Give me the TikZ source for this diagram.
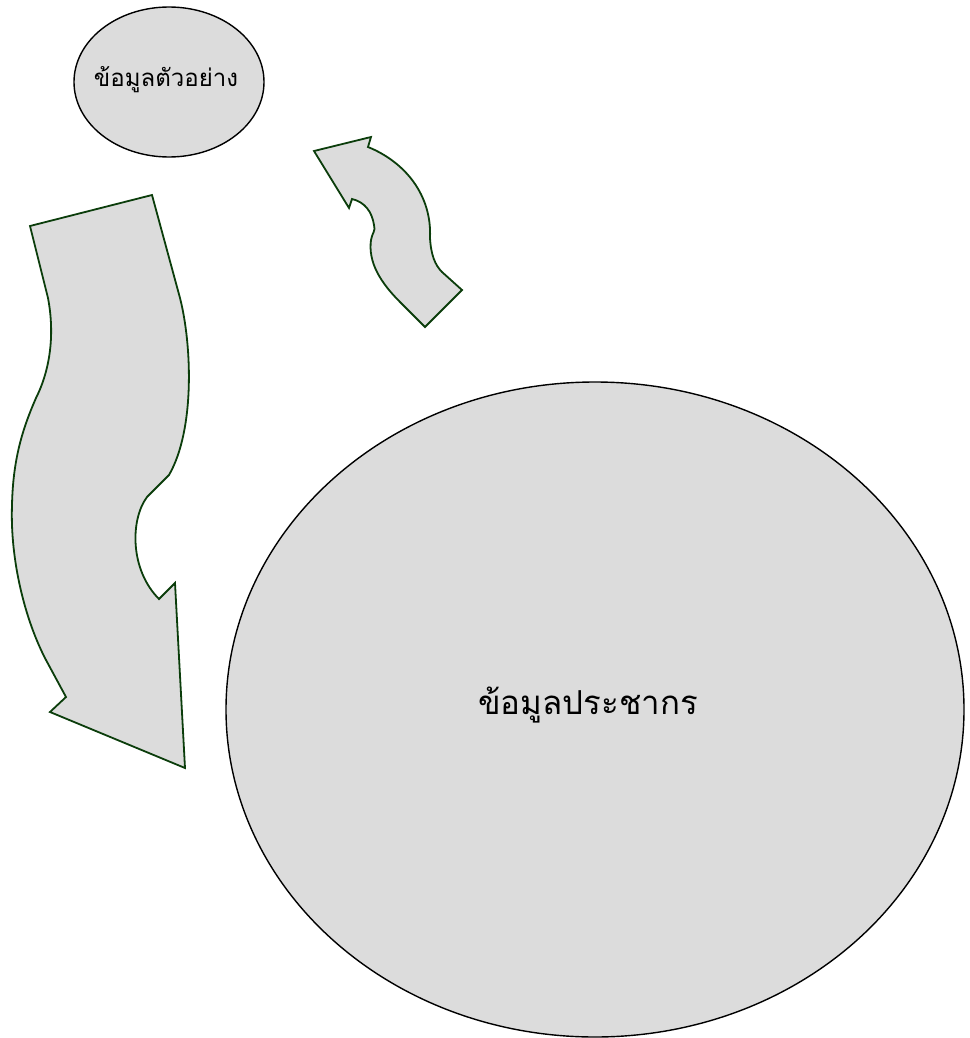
\documentclass[tikz,border=0pt]{standalone}
\usepackage{fontspec}
\newfontfamily\thaifont[Script=Thai]{Loma}
\usetikzlibrary{shapes.geometric}
\definecolor{shapefill}{HTML}{DCDCDC}
\definecolor{arrowline}{HTML}{0B3D0B}
\tikzset{
  blob/.style={ellipse, draw=black, line width=1.4pt, fill=shapefill, inner sep=0pt},
  blockarrow/.style={draw=arrowline, line width=1.8pt, fill=shapefill, line join=miter},
  lbl/.style={font=\thaifont, text=black, inner sep=0pt}
}
\begin{document}
\begin{tikzpicture}[x=1pt,y=-1pt]
\useasboundingbox (0,0) rectangle (969,1038);
% ellipses
\node[blob, minimum width=190pt, minimum height=150pt] (sample) at (169,82) {};
\node[blob, minimum width=738pt, minimum height=655pt] (pop) at (595,709.5) {};
\node[lbl, font=\thaifont\fontsize{24}{28}\selectfont] (sampletxt) at (166,80) {ข้อมูลตัวอย่าง};
\node[lbl, font=\thaifont\fontsize{33}{38}\selectfont] (poptxt) at (588,705) {ข้อมูลประชากร};
% big curved arrow on the left (down)
\draw[blockarrow] (30,226) -- (152,195) -- (180,298)
  .. controls (192,345) and (195,430) .. (169,475) -- (147,497)
  .. controls (130,520) and (130,570) .. (159,599) -- (175,583)
  -- (185,768) -- (50,712) -- (66,697) -- (46,660)
  .. controls (25,620) and (10,560) .. (12,505)
  .. controls (13,460) and (22,430) .. (36,398)
  .. controls (50,370) and (55,335) .. (48,298) -- cycle;
% small curved arrow (up)
\draw[blockarrow] (314,151) -- (371,137) -- (368,147)
  .. controls (405,162) and (432,195) .. (430,238)
  .. controls (431,255) and (435,265) .. (442,272) -- (462,290)
  -- (425,327) -- (400,302)
  .. controls (380,282) and (368,262) .. (371,240)
  .. controls (372,233) and (376,231) .. (374,225)
  .. controls (372,212) and (365,202) .. (352,199)
  -- (349,208) -- cycle;
\end{tikzpicture}
\end{document}
